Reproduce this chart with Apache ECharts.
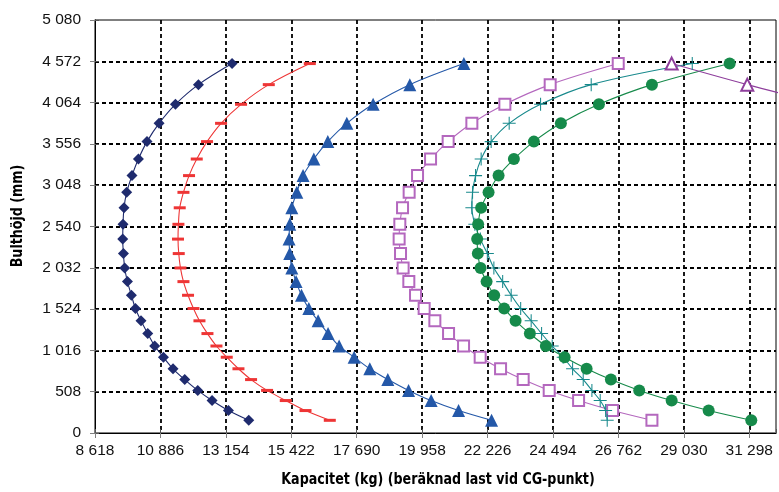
<!DOCTYPE html>
<html><head><meta charset="utf-8">
<script src="https://cdn.jsdelivr.net/npm/echarts@6/dist/echarts.min.js"></script>
<style>html,body{margin:0;padding:0;background:#fff}#c{width:779px;height:492px}</style>
</head><body><div id="c"></div>
<script>
// Axis settings (kg on x, mm on y)
const xStart = 8618, xStep = 2268, xEnd = 32225;
const yMax = 5080, yStep = 508;

// Shared bolt heights (mm) for every curve, top to bottom
const heights = [4544,4285,4043,3809,3584,3370,3166,2960,2770,2567,2385,2207,2030,1862,1694,1531,1380,1223,1070,932,790,657,524,399,276,156];

// Capacities (kg) per curve
const navyDiamonds = [13369,12204,11406,10838,10421,10123,9901,9717,9624,9589,9579,9603,9648,9742,9880,10019,10213,10446,10688,10990,11323,11729,12180,12676,13244,13948];
const redDashes    = [16064,14642,13681,12988,12502,12145,11878,11684,11555,11510,11496,11521,11580,11684,11843,12031,12239,12516,12828,13185,13591,14028,14583,15231,15915,16757];
const blueTriangles= [21405,19532,18259,17347,16688,16203,15831,15613,15440,15370,15346,15370,15440,15589,15776,16029,16352,16698,17080,17600,18145,18769,19487,20270,21221,22365];
const lilacSquares = [26756,24397,22826,21682,20860,20250,19799,19508,19279,19185,19161,19209,19299,19497,19729,20028,20399,20874,21394,21970,22677,23461,24363,25382,26561,27924];
const tealPlus     = [29322,25819,24064,22976,22351,22004,21810,21706,21682,21786,21977,22219,22445,22750,23045,23374,23738,24099,24467,24848,25174,25542,25843,26131,26319,26374];
const greenCircles = [30619,27924,26086,24768,23832,23139,22608,22261,22004,21900,21866,21890,21984,22192,22455,22802,23197,23693,24248,24897,25660,26502,27484,28608,29891,31368];
const violetTriangles = [28608,31229,33900];

function fmt(n){ return String(Math.round(n)).replace(/\B(?=(\d{3})+(?!\d))/g, ' '); }
function pts(vals){ return vals.map((v,i)=>[v - xStart, heights[i]]); }

const plusPath = 'path://M4.6,0H5.4V4.6H10V5.4H5.4V10H4.6V5.4H0V4.6H4.6Z';

function line(vals, color, symbol, size, empty){
  return {
    type:'line', data: pts(vals), smooth:0.35, clip:true,
    symbol: symbol, symbolSize: size, showAllSymbol:true,
    lineStyle:{color:color, width:1.1},
    itemStyle: empty ? {color:color, borderColor:color, borderWidth:1.3} : {color:color, borderWidth:0},
    emphasis:{disabled:true}, animation:false, z: 3
  };
}

const labelFont = '"Liberation Sans", Arial, sans-serif';
const titleFont = '"Liberation Sans Narrow", "DejaVu Sans Condensed", "Liberation Sans", sans-serif';

const chart = echarts.init(document.getElementById('c'), null, {renderer:'canvas'});
chart.setOption({
  animation:false,
  backgroundColor:'#fff',
  grid:{left:95, right:3, top:20, bottom:59, show:true, borderColor:'#000', borderWidth:1, outerBoundsMode:'none'},
  xAxis:[{
    type:'value', min:0, max:xEnd - xStart, interval:xStep,
    axisLine:{show:true, onZero:false, lineStyle:{color:'#808080', width:1.5}},
    axisTick:{show:true, inside:false, length:5, lineStyle:{color:'#808080'}},
    axisLabel:{show:true, margin:10, fontSize:15.5, color:'#111', fontFamily:labelFont, showMaxLabel:false,
      formatter:v=>fmt(v + xStart)},
    splitLine:{show:true, showMinLine:false, showMaxLine:false, lineStyle:{color:'#000', width:1.8, type:[4,3]}}
  },{
    type:'value', position:'top', min:0, max:xEnd - xStart, interval:xStep,
    axisLine:{show:true, lineStyle:{color:'#000', width:1}},
    axisTick:{show:true, inside:false, length:4, lineStyle:{color:'#555'}},
    axisLabel:{show:false}, splitLine:{show:false}
  }],
  yAxis:[{
    type:'value', min:0, max:yMax, interval:yStep,
    axisLine:{show:true, onZero:false, lineStyle:{color:'#808080', width:1.5}},
    axisTick:{show:true, inside:false, length:5, lineStyle:{color:'#808080'}},
    axisLabel:{show:true, margin:14, fontSize:15.5, color:'#111', fontFamily:labelFont, formatter:v=>fmt(v)},
    splitLine:{show:true, showMinLine:false, showMaxLine:false, lineStyle:{color:'#000', width:1.8, type:[4,3]}}
  },{
    type:'value', position:'right', min:0, max:yMax, interval:yStep,
    axisLine:{show:true, lineStyle:{color:'#000', width:1}},
    axisTick:{show:true, inside:false, length:4, lineStyle:{color:'#555'}},
    axisLabel:{show:false}, splitLine:{show:false}
  }],
  graphic:[
    {type:'text', x:18, y:216, rotation:Math.PI/2, scaleX:0.88,
     style:{text:'Bulthöjd (mm)', font:'bold 16px ' + titleFont, fill:'#000', textAlign:'center', textVerticalAlign:'middle'}},
    {type:'text', x:438, y:480, scaleX:0.88,
     style:{text:'Kapacitet (kg) (beräknad last vid CG-punkt)', font:'bold 16px ' + titleFont, fill:'#000', textAlign:'center', textVerticalAlign:'middle'}}
  ],
  series:[
    line(navyDiamonds, '#1F2B6E', 'diamond', 11, false),
    line(redDashes, '#EE3535', 'rect', [12,3], false),
    line(blueTriangles, '#2458A8', 'triangle', 13, false),
    line(lilacSquares, '#B468BE', 'emptyRect', 11, true),
    line(tealPlus, '#17898C', plusPath, 13, false),
    line(greenCircles, '#168A4A', 'circle', 12, false),
    line(violetTriangles, '#8E3E9C', 'emptyTriangle', 12, true)
  ]
});
</script></body></html>
